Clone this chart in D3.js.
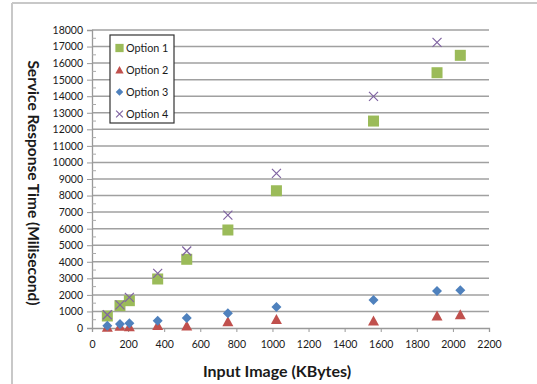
<!DOCTYPE html>
<html><head><meta charset="utf-8">
<script src="https://cdn.jsdelivr.net/npm/d3@7"></script>
<style>body{margin:0;background:#fff}svg{display:block}text{font-family:Lato,"Open Sans",sans-serif}</style>
</head><body><svg id="c" width="537" height="384"></svg>
<script>
const sizes = [85, 155, 207, 364, 525, 753, 1022, 1560, 1912, 2041];
const option1 = [725, 1350, 1650, 2960, 4150, 5920, 8290, 12500, 15420, 16470];
const option2 = [50, 100, 80, 150, 120, 380, 520, 420, 720, 800];
const option3 = [140, 240, 280, 440, 600, 890, 1270, 1690, 2230, 2280];
const option4 = [800, 1400, 1850, 3300, 4650, 6820, 9340, 13990, 17250, null];
const seriesNames = ["Option 1", "Option 2", "Option 3", "Option 4"];
const seriesColors = ["#9bbb59", "#c0504d", "#4f81bd", "#8064a2"];
const seriesShapes = ["square", "triangle", "diamond", "cross"];
const xTicks = d3.range(0, 2201, 200);
const yTicks = d3.range(0, 18001, 1000);

const svg = d3.select("#c");
const x = d3.scaleLinear().domain([0, 2200]).range([92, 489]);
const y = d3.scaleLinear().domain([0, 18000]).range([328, 30]);

// outer frame (top and left edges)
svg.append("line").attr("x1", 12).attr("x2", 537).attr("y1", 3).attr("y2", 3).attr("stroke", "#c8c8c8").attr("stroke-width", 2);
svg.append("line").attr("x1", 12).attr("x2", 12).attr("y1", 3).attr("y2", 384).attr("stroke", "#c8c8c8").attr("stroke-width", 2);

// gridlines
svg.append("g").selectAll("line").data(yTicks.filter(d => d > 0)).join("line")
  .attr("x1", x(0)).attr("x2", x(2200)).attr("y1", d => y(d)).attr("y2", d => y(d))
  .attr("stroke", "#a0a0a0").attr("stroke-width", 1.5);

// y axis
const yAxis = svg.append("g").attr("transform", `translate(${x(0)},0)`)
  .call(d3.axisLeft(y).tickValues(yTicks).tickSize(5).tickPadding(4).tickFormat(d3.format("d")));
yAxis.select(".domain").attr("stroke", "#999").attr("stroke-width", 1.3);
yAxis.selectAll(".tick line").attr("stroke", "#999");
yAxis.selectAll("text").attr("font-size", 10.5).attr("fill", "#1a1a1a");
// minor ticks
svg.append("g").selectAll("line").data(d3.range(500, 18000, 1000)).join("line")
  .attr("x1", x(0)).attr("x2", x(0) + 4).attr("y1", d => y(d)).attr("y2", d => y(d))
  .attr("stroke", "#aaa");

// x axis
const xAxis = svg.append("g").attr("transform", `translate(0,${y(0)})`)
  .call(d3.axisBottom(x).tickValues(xTicks).tickSize(4).tickPadding(9).tickFormat(d3.format("d")));
xAxis.select(".domain").attr("stroke", "#999").attr("stroke-width", 1.3);
xAxis.selectAll(".tick line").attr("stroke", "#999");
xAxis.selectAll("text").attr("font-size", 10.5).attr("fill", "#1a1a1a");

// axis titles
svg.append("text").attr("x", 277).attr("y", 377).attr("text-anchor", "middle")
  .attr("font-size", 16).attr("font-weight", "bold").attr("fill", "#1a1a1a").text("Input Image (KBytes)");
svg.append("text").attr("transform", "translate(28,183) rotate(90)").attr("text-anchor", "middle")
  .attr("font-size", 15.5).attr("font-weight", "bold").attr("fill", "#1a1a1a").text("Service Response Time (Milisecond)");

function drawMarker(g, shape, color, cx, cy, scale) {
  const s = scale || 1;
  if (shape === "square") {
    g.append("rect").attr("x", cx - 5.5 * s).attr("y", cy - 5.5 * s).attr("width", 11 * s).attr("height", 11 * s).attr("fill", color);
  } else if (shape === "triangle") {
    const p = [[cx, cy - 5.5 * s], [cx + 5.5 * s, cy + 4.5 * s], [cx - 5.5 * s, cy + 4.5 * s]];
    g.append("path").attr("d", "M" + p.join("L") + "Z").attr("fill", color);
  } else if (shape === "diamond") {
    const p = [[cx, cy - 5 * s], [cx + 5 * s, cy], [cx, cy + 5 * s], [cx - 5 * s, cy]];
    g.append("path").attr("d", "M" + p.join("L") + "Z").attr("fill", color);
  } else {
    const r = 4.5 * s;
    g.append("path").attr("d", `M${cx - r},${cy - r}L${cx + r},${cy + r}M${cx - r},${cy + r}L${cx + r},${cy - r}`)
      .attr("stroke", color).attr("stroke-width", 1.2).attr("fill", "none");
  }
}

const allSeries = [option1, option2, option3, option4];
allSeries.forEach((vals, i) => {
  const g = svg.append("g");
  vals.forEach((v, j) => {
    if (v === null) return;
    drawMarker(g, seriesShapes[i], seriesColors[i], x(sizes[j]), y(v));
  });
});

// legend
const lg = svg.append("g");
lg.append("rect").attr("x", 110).attr("y", 35).attr("width", 64).attr("height", 88)
  .attr("fill", "#fff").attr("stroke", "#333").attr("stroke-width", 1.2);
seriesNames.forEach((n, i) => {
  const cy = 48 + i * 22;
  drawMarker(lg, seriesShapes[i], seriesColors[i], 119.5, cy, 0.75);
  lg.append("text").attr("x", 126).attr("y", cy + 4).attr("font-size", 10.8).attr("fill", "#1a1a1a").text(n);
});
</script></body></html>
